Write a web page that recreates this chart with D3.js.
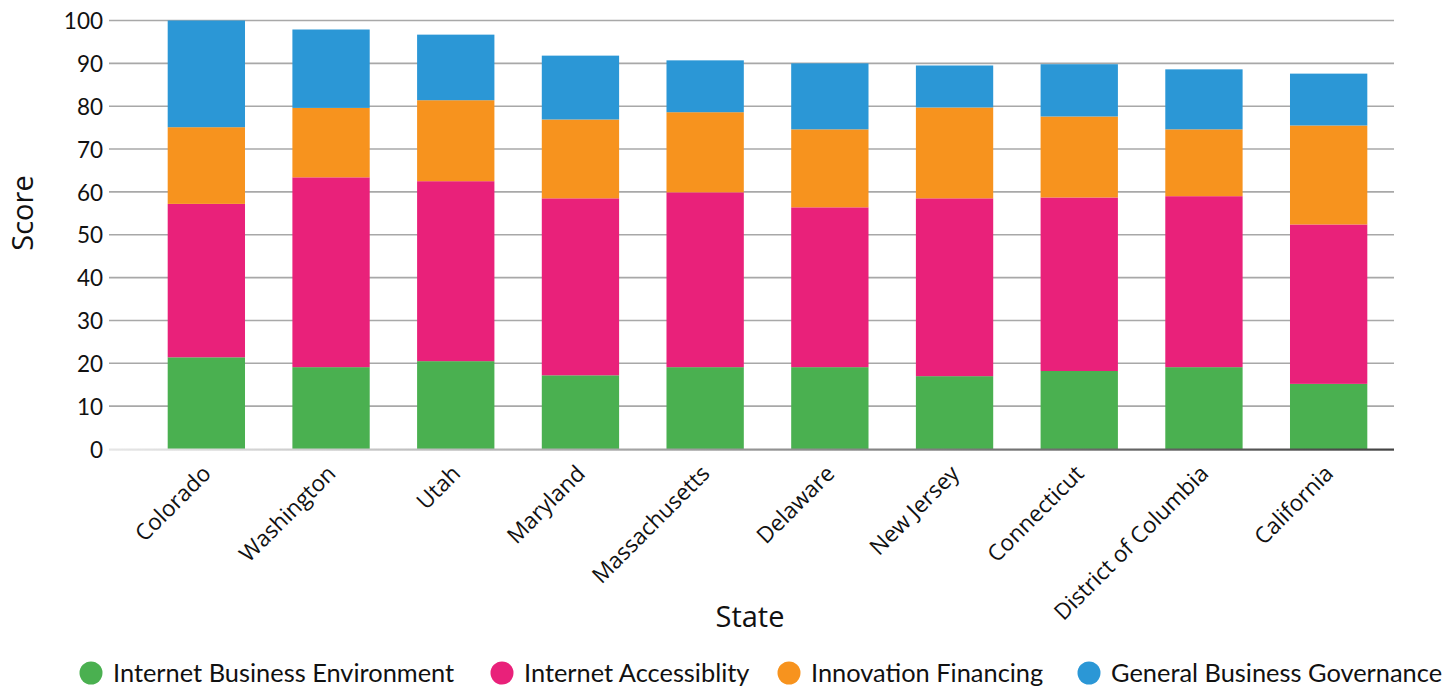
<!DOCTYPE html>
<html>
<head>
<meta charset="utf-8">
<script src="https://cdn.jsdelivr.net/npm/d3@7"></script>
<style>
  body { margin: 0; background: #fff; }
  text { fill: #111; }
</style>
</head>
<body>
<div id="chart"></div>
<script>
var states = ['Colorado', 'Washington', 'Utah', 'Maryland', 'Massachusetts',
              'Delaware', 'New Jersey', 'Connecticut', 'District of Columbia', 'California'];

// segment sizes per state (stacked)
var businessEnv   = [21.4, 19.1, 20.5, 17.2, 19.1, 19.1, 17.0, 18.2, 19.1, 15.2];
var accessibility = [35.8, 44.3, 42.0, 41.3, 40.8, 37.3, 41.5, 40.5, 39.9, 37.2];
var financing     = [17.9, 16.2, 18.9, 18.4, 18.7, 18.2, 21.2, 18.9, 15.6, 23.1];
var governance    = [24.9, 18.3, 15.3, 14.9, 12.1, 15.4, 9.8, 12.2, 14.0, 12.1];

var seriesNames = ['Internet Business Environment', 'Internet Accessiblity',
                   'Innovation Financing', 'General Business Governance'];
var seriesColors = ['#4ab050', '#e9217a', '#f7931e', '#2b97d6'];
var yTicks = [0, 10, 20, 30, 40, 50, 60, 70, 80, 90, 100];

var width = 1449, height = 687;
var svg = d3.select('#chart').append('svg').attr('width', width).attr('height', height);

var gridLeft = 109, gridRight = 1394;
var y = d3.scaleLinear().domain([0, 100]).range([449, 20.5]);
var x = d3.scaleBand().domain(states).range([144, 1391]).paddingInner(0.38).paddingOuter(0.19);

// gridlines
svg.append('g').selectAll('line')
  .data(yTicks.filter(function (d) { return d > 0; }))
  .enter().append('line')
  .attr('x1', gridLeft).attr('x2', gridRight)
  .attr('y1', function (d) { return y(d); }).attr('y2', function (d) { return y(d); })
  .attr('stroke', '#a8a8a8').attr('stroke-width', 1.6);

// stacked data
var rows = states.map(function (s, i) {
  return { state: s, s0: businessEnv[i], s1: accessibility[i], s2: financing[i], s3: governance[i] };
});
var stack = d3.stack().keys(['s0', 's1', 's2', 's3']);
var layers = stack(rows);

svg.append('g').selectAll('g')
  .data(layers)
  .enter().append('g')
  .attr('fill', function (d, i) { return seriesColors[i]; })
  .selectAll('rect')
  .data(function (d) { return d; })
  .enter().append('rect')
  .attr('x', function (d) { return x(d.data.state); })
  .attr('width', x.bandwidth())
  .attr('y', function (d) { return y(d[1]); })
  .attr('height', function (d) { return y(d[0]) - y(d[1]); });

// baseline with gradient
var grad = svg.append('defs').append('linearGradient').attr('id', 'base')
  .attr('x1', '0%').attr('x2', '100%');
grad.append('stop').attr('offset', '0%').attr('stop-color', '#e6e6e6');
grad.append('stop').attr('offset', '100%').attr('stop-color', '#444');
svg.append('rect').attr('x', gridLeft).attr('y', y(0) - 0.5)
  .attr('width', gridRight - gridLeft).attr('height', 2.2).attr('fill', 'url(#base)');

// y axis labels
var yAxis = d3.axisLeft(y).tickValues(yTicks).tickSize(0).tickPadding(0);
var yg = svg.append('g').attr('transform', 'translate(103,0)').call(yAxis);
yg.select('.domain').remove();
yg.selectAll('text').style('font-size', '22.5px').style('font-family', 'Lato, sans-serif')
  .attr('fill', '#111').attr('dy', '0.36em');

// x axis labels
var xAxis = d3.axisBottom(x).tickSize(0).tickPadding(0);
var xg = svg.append('g').attr('transform', 'translate(0,' + y(0) + ')').call(xAxis);
xg.select('.domain').remove();
xg.selectAll('text')
  .style('font-size', '22.5px').style('font-family', '"Open Sans", sans-serif').attr('fill', '#111')
  .attr('text-anchor', 'end')
  .attr('dy', 0).attr('y', 0)
  .attr('transform', 'translate(6,26) rotate(-45)');

// axis titles
svg.append('text').attr('x', 750).attr('y', 627).attr('text-anchor', 'middle')
  .style('font-family', '"Open Sans", sans-serif').style('font-size', '29px').text('State');
svg.append('text').attr('transform', 'translate(33,213) rotate(-90)')
  .attr('text-anchor', 'middle')
  .style('font-family', '"Open Sans", sans-serif').style('font-size', '29px').text('Score');

// legend
var legendX = [91, 502, 789, 1089];
var lg = svg.append('g').selectAll('g').data(seriesNames).enter().append('g')
  .attr('transform', function (d, i) { return 'translate(' + legendX[i] + ',673)'; });
lg.append('circle').attr('r', 11.5).attr('fill', function (d, i) { return seriesColors[i]; });
lg.append('text').attr('x', 22).attr('dy', '0.36em')
  .style('font-family', 'Lato, sans-serif').style('font-size', '25.4px').text(function (d) { return d; });
</script>
</body>
</html>
